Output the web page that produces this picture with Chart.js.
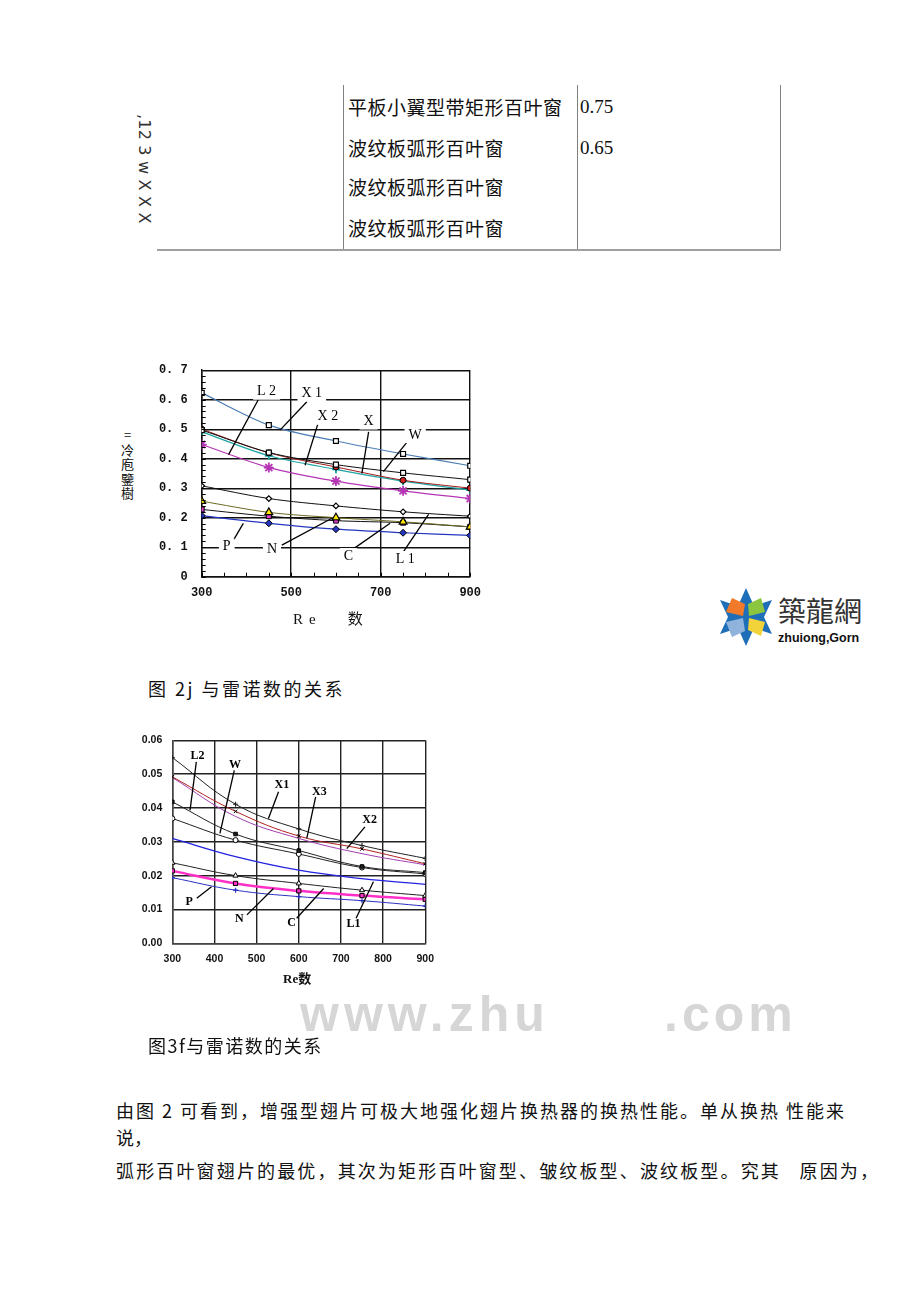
<!DOCTYPE html>
<html>
<head>
<meta charset="utf-8">
<script src="https://cdn.jsdelivr.net/npm/chart.js@4.4.0/dist/chart.umd.min.js"></script>
<style>
body { margin: 0; background: #fff; }
#page { position: relative; width: 920px; height: 1301px; overflow: hidden; font-family: "Noto Sans CJK SC", sans-serif; color: #111; }
.t { position: absolute; white-space: nowrap; line-height: 1; }
.vl { position: absolute; width: 1px; background: #808080; }
canvas { position: absolute; }
</style>
</head>
<body>
<div id="page">
  <!-- tabla superior -->
  <div class="vl" style="left:343px;top:85px;height:166px"></div>
  <div class="vl" style="left:577px;top:85px;height:166px"></div>
  <div class="vl" style="left:780px;top:85px;height:166px"></div>
  <div style="position:absolute;left:157px;top:249px;width:624px;height:2px;background:#a0a0a0"></div>
  <div class="t" style="left:136px;top:114px;font-size:16px;writing-mode:vertical-rl;font-family:'DejaVu Sans',sans-serif;color:#333;letter-spacing:0.2px">,12 3 w X X X</div>
  <div class="t" style="left:348px;top:97px;font-size:19px;letter-spacing:0.5px">平板小翼型带矩形百叶窗</div>
  <div class="t" style="left:580px;top:97px;font-size:19px;font-family:'Liberation Serif',serif">0.75</div>
  <div class="t" style="left:348px;top:138px;font-size:19px;letter-spacing:0.5px">波纹板弧形百叶窗</div>
  <div class="t" style="left:580px;top:138px;font-size:19px;font-family:'Liberation Serif',serif">0.65</div>
  <div class="t" style="left:348px;top:177px;font-size:19px;letter-spacing:0.5px">波纹板弧形百叶窗</div>
  <div class="t" style="left:348px;top:218px;font-size:19px;letter-spacing:0.5px">波纹板弧形百叶窗</div>

  <!-- grafico 1 -->
  <canvas id="c1" width="340" height="261" style="left:150px;top:349px"></canvas>
  <div class="t" style="left:121px;top:429px;font-size:13px;writing-mode:vertical-rl;text-orientation:upright;letter-spacing:1.5px">=冷庖鑒樹</div>
  <div class="t" style="left:293px;top:610px;font-size:15px;font-family:'Liberation Serif',serif;letter-spacing:6px">Re<span style="font-family:'Noto Sans CJK SC';margin-left:26px">数</span></div>
  <div class="t" style="left:148px;top:679px;font-size:18px;letter-spacing:2.5px">图 2j 与雷诺数的关系</div>

  <!-- logo -->
  <svg style="position:absolute;left:712px;top:584px" width="160" height="66" viewBox="0 0 160 66">
    <polygon points="34,4 42,22 60,16 52,33 60,50 42,44 34,62 26,44 8,50 16,33 8,16 26,22" fill="#1f6fb8"/>
    <polygon points="20,14 33,20 31,32 14,28" fill="#f07a2a"/>
    <polygon points="36,20 49,14 53,28 37,32" fill="#8cc63e"/>
    <polygon points="14,38 31,34 33,47 20,53" fill="#8fb3dc"/>
    <polygon points="37,34 53,38 49,52 36,46" fill="#f2d33a"/>
    <text x="66" y="38" font-size="28" font-family="Noto Sans CJK TC" fill="#333">築龍網</text>
    <text x="66" y="58" font-size="12.5" font-weight="bold" font-family="Liberation Sans" fill="#111">zhuiong,Gorn</text>
  </svg>

  <!-- grafico 2 -->
  <canvas id="c2" width="314" height="246" style="left:130px;top:724px"></canvas>
  <div class="t" style="left:283px;top:971px;font-size:13px;font-weight:bold;font-family:'Liberation Serif',serif">Re<span style="font-family:'Noto Sans CJK SC'">数</span></div>
  <div class="t" style="left:300px;top:989px;font-size:50px;font-weight:bold;font-family:'Liberation Sans';color:#d6d6d6;letter-spacing:5px">www.zhu</div>
  <div class="t" style="left:664px;top:989px;font-size:50px;font-weight:bold;font-family:'Liberation Sans';color:#d6d6d6;letter-spacing:4px">.com</div>
  <div class="t" style="left:148px;top:1036px;font-size:18px;letter-spacing:1.5px">图3f与雷诺数的关系</div>

  <!-- texto -->
  <div class="t" style="left:116px;top:1101px;font-size:18px;letter-spacing:2px">由图 2 可看到，增强型翅片可极大地强化翅片换热器的换热性能。单从换热 性能来</div>
  <div class="t" style="left:116px;top:1128px;font-size:18px">说，</div>
  <div class="t" style="left:116px;top:1161px;font-size:18px;letter-spacing:2.15px">弧形百叶窗翅片的最优，其次为矩形百叶窗型、皱纹板型、波纹板型。究其&nbsp;&nbsp;&nbsp;原因为，</div>
</div>

<script>
// Re de cada punto
const re = [300, 450, 600, 750, 900];

// Figura 2j
const g1X1 = [0.623, 0.514, 0.460, 0.416, 0.376];
const g1Sq = [0.497, 0.421, 0.380, 0.352, 0.329];
const g1Red = [0.500, 0.420, 0.372, 0.327, 0.300];
const g1Teal = [0.491, 0.410, 0.364, 0.324, 0.294];
const g1Mag = [0.448, 0.370, 0.324, 0.291, 0.265];
const g1Dia = [0.308, 0.265, 0.240, 0.220, 0.205];
const g1Tri = [0.256, 0.218, 0.200, 0.186, 0.169];
const g1Pink = [0.228, 0.205, 0.190, 0.183, 0.169];
const g1Blue = [0.207, 0.181, 0.161, 0.149, 0.140];
const g1Ticks = [0, 0.1, 0.2, 0.3, 0.4, 0.5, 0.6, 0.7];

// Figura 3f
const g2A = [0.0549, 0.0411, 0.0338, 0.0289, 0.0251];
const g2Red = [0.0492, 0.0390, 0.0317, 0.0279, 0.0235];
const g2Pur = [0.0490, 0.0375, 0.0310, 0.0265, 0.0232];
const g2Sq = [0.0418, 0.0323, 0.0274, 0.0227, 0.0209];
const g2B = [0.0369, 0.0305, 0.0264, 0.0224, 0.0205];
const g2Blue = [0.0310, 0.0256, 0.0216, 0.0191, 0.0174];
const g2Tri = [0.0238, 0.0200, 0.0177, 0.0157, 0.0141];
const g2Mag = [0.0214, 0.0177, 0.0155, 0.0141, 0.0130];
const g2Blue2 = [0.0194, 0.0157, 0.0138, 0.0126, 0.0110];

// Etiquetas con linea guia (en coordenadas de datos)
const notes1 = [
  { t: 'L 2', at: [445, 0.627], a: [430, 0.610], b: [360, 0.414] },
  { t: 'X 1', at: [546, 0.621], a: [535, 0.593], b: [475, 0.497] },
  { t: 'X 2', at: [582, 0.542], a: [561, 0.525], b: [531, 0.378] },
  { t: 'X', at: [673, 0.526], a: [673, 0.491], b: [658, 0.350] },
  { t: 'W', at: [777, 0.480], a: [762, 0.462], b: [706, 0.356] },
  { t: 'P', at: [356, 0.102], a: [371, 0.124], b: [393, 0.181] },
  { t: 'N', at: [457, 0.093], a: [479, 0.107], b: [591, 0.198] },
  { t: 'C', at: [628, 0.070], a: [635, 0.090], b: [721, 0.181] },
  { t: 'L 1', at: [755, 0.060], a: [751, 0.085], b: [807, 0.211] }
];
const notes2 = [
  { t: 'L2', at: [360, 0.0553], a: [357, 0.0536], b: [342, 0.0393] },
  { t: 'W', at: [449, 0.0526], a: [447, 0.0511], b: [413, 0.0325] },
  { t: 'X1', at: [560, 0.0467], a: [552, 0.0448], b: [528, 0.0369] },
  { t: 'X3', at: [649, 0.0448], a: [640, 0.0433], b: [619, 0.0310] },
  { t: 'X2', at: [768, 0.0364], a: [757, 0.0344], b: [714, 0.0280] },
  { t: 'P', at: [340, 0.0123], a: [358, 0.0133], b: [393, 0.0167] },
  { t: 'N', at: [459, 0.0071], a: [477, 0.0084], b: [540, 0.0162] },
  { t: 'C', at: [583, 0.0059], a: [595, 0.0074], b: [659, 0.0162] },
  { t: 'L1', at: [730, 0.0057], a: [736, 0.0074], b: [777, 0.0182] }
];

function notesPlugin(items, font, bg) {
  return {
    id: 'notes',
    afterDatasetsDraw(chart) {
      const { ctx, scales: { x, y } } = chart;
      ctx.save();
      items.forEach(n => {
        ctx.strokeStyle = '#000';
        ctx.lineWidth = 1.3;
        ctx.beginPath();
        ctx.moveTo(x.getPixelForValue(n.a[0]), y.getPixelForValue(n.a[1]));
        ctx.lineTo(x.getPixelForValue(n.b[0]), y.getPixelForValue(n.b[1]));
        ctx.stroke();
        ctx.font = font;
        const px = x.getPixelForValue(n.at[0]);
        const py = y.getPixelForValue(n.at[1]);
        const w = ctx.measureText(n.t).width;
        if (bg) {
          ctx.fillStyle = '#fff';
          ctx.fillRect(px - w / 2 - 4, py - 8, w + 8, 16);
        }
        ctx.fillStyle = '#000';
        ctx.textAlign = 'center';
        ctx.textBaseline = 'middle';
        ctx.fillText(n.t, px, py);
      });
      ctx.restore();
    }
  };
}

// marcas menores en el eje izquierdo / inferior
const minorTicks = {
  id: 'minor',
  afterDraw(chart) {
    const { ctx, chartArea: a, scales: { x, y } } = chart;
    ctx.save();
    ctx.strokeStyle = '#000';
    ctx.lineWidth = 1;
    for (let v = 0; v <= 0.7; v += 0.02) {
      const py = Math.round(y.getPixelForValue(v)) + 0.5;
      ctx.beginPath(); ctx.moveTo(a.left, py); ctx.lineTo(a.left + 4, py); ctx.stroke();
    }
    for (let r = 300; r <= 900; r += 50) {
      const px = Math.round(x.getPixelForValue(r)) + 0.5;
      ctx.beginPath(); ctx.moveTo(px, a.bottom); ctx.lineTo(px, a.bottom - 4); ctx.stroke();
    }
    ctx.restore();
  }
};

function ds(data, color, style, fill, r, bw, lw) {
  return {
    data: data,
    borderColor: color,
    borderWidth: lw || 1,
    pointStyle: style,
    pointRadius: r,
    pointBackgroundColor: fill,
    pointBorderColor: style === 'star' || style === 'cross' ? color : '#000',
    pointBorderWidth: bw,
    tension: 0.3,
    fill: false
  };
}

const ctx1 = document.getElementById('c1').getContext('2d');
new Chart(ctx1, {
  type: 'line',
  data: {
    labels: re,
    datasets: [
      ds(g1X1, '#4b7db3', 'rect', '#fff', 3.5, 1.2, 1.2),
      ds(g1Sq, '#111', 'rect', '#fff', 3.5, 1.2),
      ds(g1Red, '#a01818', 'circle', '#d02020', 3, 1),
      ds(g1Teal, '#1fa5a5', 'cross', '#1fa5a5', 4, 2, 1.2),
      ds(g1Mag, '#b535b5', 'star', '#b535b5', 5, 1.8, 1.2),
      ds(g1Dia, '#111', 'rectRot', '#fff', 2.8, 1.2),
      ds(g1Tri, '#6a6a22', 'triangle', '#ffe800', 4.5, 1.2),
      ds(g1Pink, '#111', 'rect', '#e040d0', 3.5, 1),
      ds(g1Blue, '#2436c0', 'rectRot', '#2436c0', 3.5, 1, 1.2)
    ].map(d => Object.assign(d, { data: d.data.map((v, i) => ({ x: re[i], y: v })) }))
  },
  options: {
    responsive: false,
    animation: false,
    devicePixelRatio: 1,
    layout: { autoPadding: false, padding: { top: 10, right: 10, left: 0, bottom: 0 } },
    plugins: { legend: { display: false }, tooltip: { enabled: false } },
    scales: {
      x: {
        type: 'linear',
        min: 300, max: 900,
        afterFit: s => { s.height = 33.3; },
        ticks: { stepSize: 200, padding: 9, color: '#111', font: { family: 'Liberation Mono', size: 12, weight: 'bold' } },
        grid: { color: '#111', lineWidth: 1.4, drawTicks: false },
        border: { color: '#111', width: 1.5 }
      },
      y: {
        min: 0, max: 0.7,
        afterFit: s => { s.width = 51.7; },
        afterBuildTicks: s => { s.ticks = g1Ticks.map(v => ({ value: v })); },
        ticks: {
          padding: 14,
          color: '#111',
          font: { family: 'Liberation Mono', size: 12, weight: 'bold' },
          callback: v => v === 0 ? '0' : v.toFixed(1).replace('.', '. ')
        },
        grid: { color: '#111', lineWidth: 1.4, drawTicks: false },
        border: { color: '#111', width: 1.5 }
      }
    }
  },
  plugins: [notesPlugin(notes1, '14px "Liberation Serif"', true), minorTicks]
});

const ctx2 = document.getElementById('c2').getContext('2d');
new Chart(ctx2, {
  type: 'line',
  data: {
    labels: re,
    datasets: [
      ds(g2A, '#222', 'cross', '#222', 2.5, 1.2),
      ds(g2Red, '#b02020', 'crossRot', '#b02020', 2.5, 1),
      ds(g2Pur, '#a040b0', 'circle', '#a040b0', 0, 1),
      ds(g2Sq, '#222', 'rect', '#222', 2.5, 1),
      ds(g2B, '#222', 'circle', '#fff', 2.5, 1),
      ds(g2Blue, '#2323e0', 'circle', '#2323e0', 0, 1, 1.3),
      ds(g2Tri, '#222', 'triangle', '#fff', 3, 1),
      ds(g2Mag, '#ff2fc8', 'rect', '#ff2fc8', 3, 1, 2.5),
      ds(g2Blue2, '#2a30c0', 'cross', '#2a30c0', 2.5, 1.2)
    ].map(d => Object.assign(d, { tension: 0.4, data: d.data.map((v, i) => ({ x: re[i], y: v })) }))
  },
  options: {
    responsive: false,
    animation: false,
    devicePixelRatio: 1,
    layout: { autoPadding: false, padding: { top: 10, right: 15, left: 0, bottom: 0 } },
    plugins: { legend: { display: false }, tooltip: { enabled: false } },
    scales: {
      x: {
        type: 'linear',
        min: 300, max: 900,
        afterFit: s => { s.height = 26.7; },
        ticks: { stepSize: 100, padding: 10, color: '#111', font: { family: 'Liberation Sans', size: 10.5, weight: 'bold' } },
        grid: { color: '#222', lineWidth: 1.4, drawTicks: false },
        border: { color: '#444', width: 1.5 }
      },
      y: {
        min: 0, max: 0.06,
        afterFit: s => { s.width = 42.3; },
        ticks: { stepSize: 0.01, padding: 10, color: '#111', font: { family: 'Liberation Sans', size: 10.5, weight: 'bold' }, callback: v => v.toFixed(2) },
        grid: { color: '#222', lineWidth: 1.4, drawTicks: false },
        border: { color: '#444', width: 1.5 }
      }
    }
  },
  plugins: [notesPlugin(notes2, 'bold 12px "Liberation Serif"', false)]
});
</script>
</body>
</html>
